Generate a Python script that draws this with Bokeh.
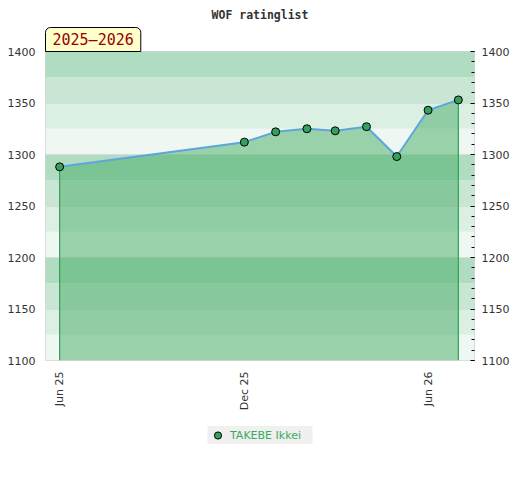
from datetime import datetime
from math import pi

from bokeh.plotting import figure
from bokeh.layouts import column
from bokeh.models import (Range1d, LinearAxis, SingleIntervalTicker, MonthsTicker,
                          DatetimeTickFormatter, BoxAnnotation, Title, Legend, LegendItem)
from bokeh.embed import file_html
from bokeh.resources import INLINE

# ---- data ----
chart_title = "WOF ratinglist"
season = "2025–2026"
player = "TAKEBE Ikkei"
dates = ["2025-06-01", "2025-12-01", "2026-01-01", "2026-02-01", "2026-03-01",
         "2026-04-01", "2026-05-01", "2026-06-01", "2026-07-01"]
ratings = [1288, 1312, 1322, 1325, 1323, 1327, 1298, 1343, 1353]
y_min, y_max = 1100, 1400
x_start, x_end = "2025-05-18", "2026-07-17"
tick_months = [5, 11]          # June, December (0-based)
band_step = 25
band_colors = ["#eef7f1", "#dcefe3", "#c8e6d3", "#b0dcc1"]

point_style = dict(size=8, fill_color="#35a05c", line_color="black", line_width=1)

def d(s):
    return datetime.strptime(s, "%Y-%m-%d")

xs = [d(s) for s in dates]

p = figure(x_axis_type="datetime",
           x_range=Range1d(d(x_start), d(x_end)),
           y_range=Range1d(y_min, y_max),
           width=512, height=420,
           min_border_left=45, min_border_right=37, min_border_top=51, min_border_bottom=60,
           output_backend="svg", toolbar_location=None,
           background_fill_color="white", border_fill_color="white",
           outline_line_color="#d6d6d6")

# season badge (closest to the frame)
badge = Title(text=season, align="left",
              text_font="DejaVu Sans Mono", text_font_size="15px", text_color="#990000",
              text_font_style="normal",
              background_fill_color="#ffffcc", border_line_color="black", border_line_width=1,
              padding=(7, 3), border_radius=(5, 5, 0, 0), standoff=0)
p.add_layout(badge, "above")

# title
p.title.text = chart_title
p.title.align = "center"
p.title.text_font = "DejaVu Sans Mono"
p.title.text_font_size = "11.5px"
p.title.text_font_style = "bold"
p.title.text_color = "#333333"
p.title.standoff = 8

# background bands
for lo in range(y_min, y_max, band_step):
    p.add_layout(BoxAnnotation(bottom=lo, top=lo + band_step,
                               fill_color=band_colors[(lo // band_step) % 4], fill_alpha=1.0,
                               line_color=None, level="image"))

# grid
p.xgrid.visible = False
p.ygrid.ticker = SingleIntervalTicker(interval=50)
p.ygrid.grid_line_color = "#d4d4d4"
p.ygrid.grid_line_alpha = 0.7

# area, edges, line, points
p.varea(x=xs, y1=y_min, y2=ratings, fill_color="#4baf6b", fill_alpha=0.52)
p.segment(x0=[xs[0], xs[-1]], y0=[y_min, y_min], x1=[xs[0], xs[-1]], y1=[ratings[0], ratings[-1]],
          line_color=["#3d9a5d", "#2aa84b"], line_width=1.2)
p.line(xs, ratings, line_color="#5da5dd", line_width=2)
p.scatter(xs, ratings, **point_style)

# axes
yl = p.yaxis[0]
yl.ticker = SingleIntervalTicker(interval=50, num_minor_ticks=0)
yl.major_tick_out = 0
yl.major_tick_in = 0
yl.minor_tick_line_color = None
yl.axis_line_color = None
yl.major_label_standoff = 10
yl.major_label_text_font = "DejaVu Sans"
yl.major_label_text_font_size = "11px"
yl.major_label_text_color = "#333333"

yr = LinearAxis(ticker=SingleIntervalTicker(interval=50, num_minor_ticks=5))
yr.major_tick_in = 4
yr.major_tick_out = 0
yr.minor_tick_in = 3
yr.minor_tick_out = 0
yr.major_tick_line_color = "black"
yr.minor_tick_line_color = "black"
yr.axis_line_color = None
yr.major_label_standoff = 7
yr.major_label_text_font = "DejaVu Sans"
yr.major_label_text_font_size = "11px"
yr.major_label_text_color = "#333333"
p.add_layout(yr, "right")

xa = p.xaxis[0]
xa.ticker = MonthsTicker(months=tick_months)
xa.formatter = DatetimeTickFormatter(months="%b %y", days="%b %y", years="%b %y")
xa.major_label_orientation = pi / 2
xa.major_tick_out = 0
xa.major_tick_in = 0
xa.minor_tick_line_color = None
xa.axis_line_color = None
xa.major_label_standoff = 11
xa.major_label_text_font = "DejaVu Sans"
xa.major_label_text_font_size = "11px"
xa.major_label_text_color = "#333333"

# legend strip (separate small figure below the chart; its key marker lies outside its ranges)
q = figure(width=512, height=40, x_range=Range1d(0, 1), y_range=Range1d(0, 1),
           min_border_left=45, min_border_right=37, min_border_top=0, min_border_bottom=0,
           output_backend="svg", toolbar_location=None,
           outline_line_color=None, background_fill_color="white", border_fill_color="white")
q.axis.visible = False
q.grid.visible = False
key = q.scatter(x=xs[:1], y=ratings[:1], **point_style)
legend = Legend(items=[LegendItem(label=player, renderers=[key])],
                location="top_center", orientation="horizontal",
                background_fill_color="#f0f0f0", background_fill_alpha=1.0, border_line_color=None,
                label_text_font="DejaVu Sans", label_text_font_size="11px",
                label_text_color="#3aaa5a", glyph_width=20, glyph_height=18,
                label_height=18, label_width=82, padding=1, label_standoff=3, margin=6)
q.add_layout(legend)

open("out.html", "w").write(file_html(column(p, q), INLINE))
